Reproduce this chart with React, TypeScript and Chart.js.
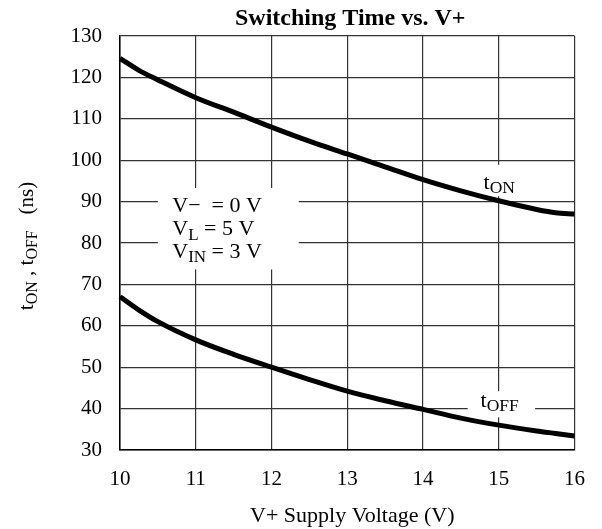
import React, { useEffect, useRef } from "react";
import { Chart, registerables } from "chart.js";

Chart.register(...registerables);

const voltages = [10, 10.25, 10.5, 11, 11.5, 12, 12.5, 13, 13.5, 14, 14.5, 15, 15.5, 15.75, 16];
const tOn = [124.6, 121.7, 119.4, 115.1, 111.6, 108.0, 104.6, 101.5, 98.4, 95.3, 92.6, 90.2, 88.1, 87.3, 87.0];
const tOff = [67.0, 63.8, 61.0, 56.6, 53.1, 50.0, 47.0, 44.2, 41.9, 39.8, 37.7, 36.0, 34.6, 34.0, 33.4];
const xTicks = [10, 11, 12, 13, 14, 15, 16];
const yTicks = [30, 40, 50, 60, 70, 80, 90, 100, 110, 120, 130];

const FONT = '"Liberation Serif", "Times New Roman", serif';

type Seg = { t: string; sub?: boolean };

function segWidth(ctx: CanvasRenderingContext2D, segs: Seg[], size: number, subSize: number) {
  let w = 0;
  for (const s of segs) {
    ctx.font = `${s.sub ? subSize : size}px ${FONT}`;
    w += ctx.measureText(s.t).width;
  }
  return w;
}

function drawSegs(ctx: CanvasRenderingContext2D, segs: Seg[], x: number, y: number, size: number, subSize: number, subDrop: number) {
  ctx.textAlign = "left";
  ctx.textBaseline = "alphabetic";
  ctx.fillStyle = "#000";
  let cx = x;
  for (const s of segs) {
    ctx.font = `${s.sub ? subSize : size}px ${FONT}`;
    ctx.fillText(s.t, cx, s.sub ? y + subDrop : y);
    cx += ctx.measureText(s.t).width;
  }
}

function box(ctx: CanvasRenderingContext2D, xs: any, ys: any, x0: number, x1: number, y0: number, y1: number) {
  const px0 = xs.getPixelForValue(x0);
  const px1 = xs.getPixelForValue(x1);
  const py0 = ys.getPixelForValue(y0);
  const py1 = ys.getPixelForValue(y1);
  ctx.fillRect(px0, py0, px1 - px0, py1 - py0);
}

const annotationPlugin = {
  id: "annotations",
  beforeDatasetsDraw(chart: any) {
    const ctx = chart.ctx as CanvasRenderingContext2D;
    const xs = chart.scales.x;
    const ys = chart.scales.y;
    ctx.save();
    ctx.fillStyle = "#fff";
    box(ctx, xs, ys, 10.5, 12.36, 93.3, 73.6);
    box(ctx, xs, ys, 14.67, 15.35, 98.9, 91.3);
    box(ctx, xs, ys, 14.59, 15.48, 44.2, 37.9);
    ctx.restore();
  },
  afterDatasetsDraw(chart: any) {
    const ctx = chart.ctx as CanvasRenderingContext2D;
    const xs = chart.scales.x;
    const ys = chart.scales.y;
    const area = chart.chartArea;
    ctx.save();
    // conditions text
    const tx = xs.getPixelForValue(10.69);
    drawSegs(ctx, [{ t: "V\u2212  = 0 V" }], tx, ys.getPixelForValue(87.6), 22, 17, 5);
    drawSegs(ctx, [{ t: "V" }, { t: "L", sub: true }, { t: " = 5 V" }], tx, ys.getPixelForValue(82.0), 22, 17, 5);
    drawSegs(ctx, [{ t: "V" }, { t: "IN", sub: true }, { t: " = 3 V" }], tx, ys.getPixelForValue(76.4), 22, 17, 4);
    // curve labels
    drawSegs(ctx, [{ t: "t" }, { t: "ON", sub: true }], xs.getPixelForValue(14.8), ys.getPixelForValue(93.0), 22, 17.5, 3.5);
    drawSegs(ctx, [{ t: "t" }, { t: "OFF", sub: true }], xs.getPixelForValue(14.76), ys.getPixelForValue(40.5), 22, 17.5, 4);

    // title
    ctx.font = `bold 24px ${FONT}`;
    ctx.textAlign = "center";
    ctx.textBaseline = "alphabetic";
    ctx.fillStyle = "#000";
    const cxp = (area.left + area.right) / 2;
    ctx.fillText("Switching Time vs. V+", cxp + 3, 25);

    // x title
    ctx.font = `22px ${FONT}`;
    ctx.fillText("V+ Supply Voltage (V)", cxp + 5, 522);

    // y title rotated
    const segs: Seg[] = [{ t: "t" }, { t: "ON", sub: true }, { t: " , t" }, { t: "OFF", sub: true }, { t: "   (ns)" }];
    const w = segWidth(ctx, segs, 21, 16);
    ctx.translate(33, 246);
    ctx.rotate(-Math.PI / 2);
    drawSegs(ctx, segs, -w / 2, 0, 21, 16, 4);
    ctx.restore();
  },
};

export default function App() {
  const ref = useRef<HTMLCanvasElement | null>(null);
  useEffect(() => {
    document.body.style.margin = "0";
    const canvas = ref.current;
    if (!canvas) return;
    const lineStyle = {
      showLine: true,
      borderColor: "#000",
      borderWidth: 5,
      pointRadius: 0,
      cubicInterpolationMode: "monotone",
      clip: false as any,
    };
    const chart = new Chart(canvas, {
      type: "scatter",
      data: {
        datasets: [
          { label: "tON", data: voltages.map((v, i) => ({ x: v, y: tOn[i] })), ...lineStyle },
          { label: "tOFF", data: voltages.map((v, i) => ({ x: v, y: tOff[i] })), ...lineStyle },
        ],
      },
      options: {
        animation: false,
        responsive: false,
        devicePixelRatio: 1,
        layout: { padding: { left: 0, right: 23, top: 36, bottom: 0 } },
        plugins: { legend: { display: false }, tooltip: { enabled: false }, title: { display: false } },
        scales: {
          x: {
            type: "linear",
            min: 10,
            max: 16,
            afterBuildTicks: (scale: any) => {
              scale.ticks = xTicks.map((v) => ({ value: v }));
            },
            afterFit: (scale: any) => {
              scale.height = 79;
            },
            ticks: {
              color: "#000",
              font: { family: FONT, size: 21 },
              padding: 17,
              maxRotation: 0,
              autoSkip: false,
            },
            grid: { color: "#333", lineWidth: 1.2, drawTicks: false },
            border: { color: "#000", width: 1.5 },
          },
          y: {
            type: "linear",
            min: 30,
            max: 130,
            afterBuildTicks: (scale: any) => {
              scale.ticks = yTicks.map((v) => ({ value: v }));
            },
            afterFit: (scale: any) => {
              scale.width = 120;
            },
            ticks: {
              color: "#000",
              font: { family: FONT, size: 21 },
              padding: 18,
              autoSkip: false,
            },
            grid: { color: "#333", lineWidth: 1.2, drawTicks: false },
            border: { color: "#000", width: 1.5 },
          },
        },
      },
      plugins: [annotationPlugin],
    } as any);
    return () => chart.destroy();
  }, []);
  return (
    <div style={{ width: 602, height: 529, background: "#fff" }}>
      <canvas ref={ref} width={602} height={529} style={{ display: "block", width: 602, height: 529 }} />
    </div>
  );
}
